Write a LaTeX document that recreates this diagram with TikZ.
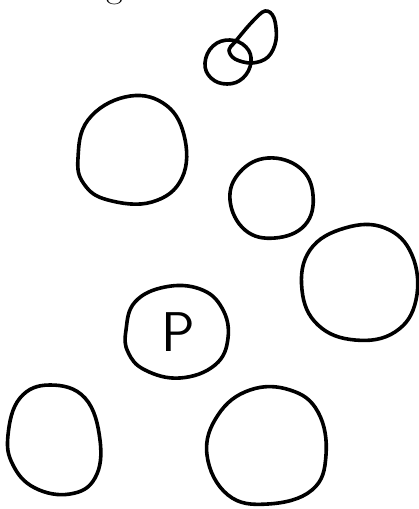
\documentclass[tikz,border=0pt]{standalone}
\begin{document}
\begin{tikzpicture}[x=1pt,y=-1pt,
  blob/.style={line width=3.6pt,line join=round,line cap=round}]
\useasboundingbox (0,0) rectangle (419,509);
\clip (0,0) rectangle (419,509);
% cropped caption (only its lowest part lies inside the picture)
\node[anchor=base west,inner sep=0pt,font=\fontsize{36}{36}\selectfont] (cap) at (76,-3) {Figure};
% small top circle and loop
\draw[blob] plot[smooth cycle,tension=0.7] coordinates {(205,63) (213,46) (230,40) (246,47) (251,62) (243,78) (227,84) (211,78)};
\draw[blob] plot[smooth cycle,tension=0.6] coordinates {(235,42) (252,22) (265,11) (274,18) (276,40) (268,57) (252,63) (235,59) (229,50)};
% upper left circle
\draw[blob] plot[smooth cycle,tension=0.7] coordinates {(78,158) (88,120) (125,97) (163,103) (184,135) (182,178) (152,202) (108,200) (84,184)};
% middle right circle
\draw[blob] plot[smooth cycle,tension=0.7] coordinates {(230,200) (240,172) (268,158) (300,168) (313,195) (305,225) (275,238) (245,230)};
% big right circle
\draw[blob] plot[smooth cycle,tension=0.7] coordinates {(302,290) (310,250) (345,228) (385,228) (412,255) (416,300) (395,332) (355,340) (318,325)};
% P circle
\draw[blob] plot[smooth cycle,tension=0.7] coordinates {(126,330) (135,302) (165,287) (200,289) (222,308) (228,338) (215,365) (180,378) (145,370) (128,352)};
\node[inner sep=0pt,font=\fontsize{56}{56}\selectfont\sffamily] (p) at (178,332) {P};
% bottom left circle
\draw[blob] plot[smooth cycle,tension=0.7] coordinates {(8,435) (20,398) (50,385) (85,398) (100,440) (95,478) (70,494) (35,488) (13,465)};
% bottom right circle
\draw[blob] plot[smooth cycle,tension=0.7] coordinates {(207,455) (218,415) (250,390) (290,390) (318,412) (326,455) (312,490) (268,504) (228,495)};
\end{tikzpicture}
\end{document}
